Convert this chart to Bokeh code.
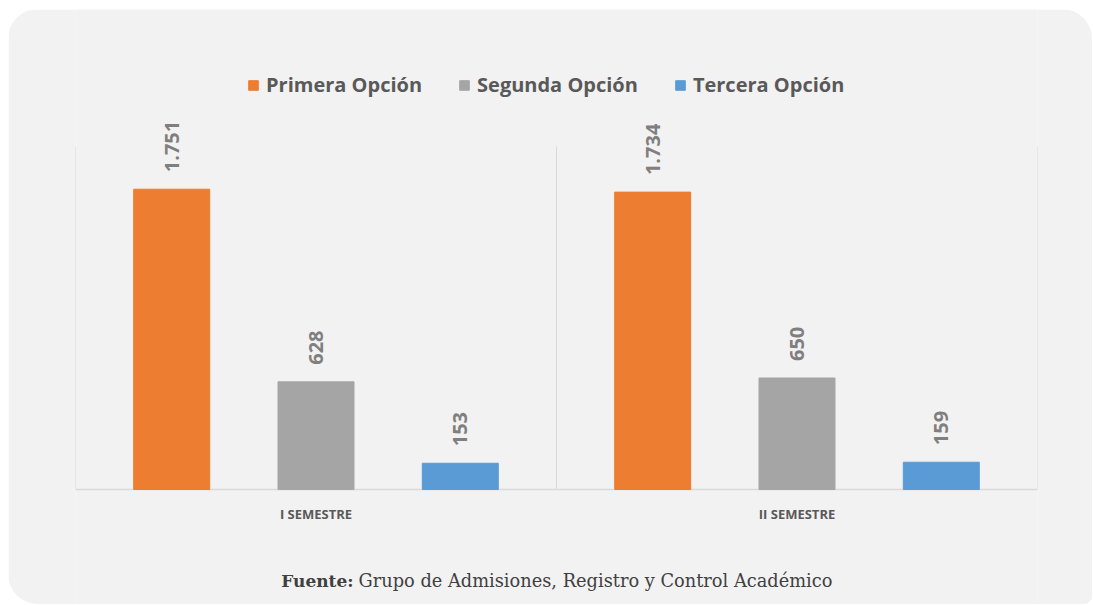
import math
from bokeh.plotting import figure
from bokeh.models import (ColumnDataSource, FactorRange, Range1d, Legend, LegendItem, Label)
from bokeh.core.properties import value
from bokeh.transform import dodge
from bokeh.embed import file_html
from bokeh.resources import INLINE

# ---- data ----
semesters = ["I SEMESTRE", "II SEMESTRE"]
series_names = ["Primera Opción", "Segunda Opción", "Tercera Opción"]
primera = [1751, 1734]
segunda = [628, 650]
tercera = [153, 159]
series_values = [primera, segunda, tercera]
series_colors = ["#ED7D31", "#A5A5A5", "#5B9BD5"]
footer_bold = "Fuente:"
footer_rest = "Grupo de Admisiones, Registro y Control Académico"

# ---- layout ----
W, H = 1084, 595
BL, BR = 67, 55
base_px = 480            # baseline position from figure top
px_per_unit = 343 / 2000  # value area: 0..2000 spans 343 px
axis_max = 2000
y_start = -(H - base_px) / px_per_unit
y_end = base_px / px_per_unit

BG = "#F2F2F2"

p = figure(width=W, height=H, x_range=FactorRange(*semesters, range_padding=0),
           y_range=Range1d(y_start, y_end), output_backend="svg", toolbar_location=None,
           min_border_left=BL, min_border_right=BR, min_border_top=0, min_border_bottom=0)
p.background_fill_color = BG
p.border_fill_color = BG
p.outline_line_color = None
p.xgrid.visible = False
p.ygrid.visible = False
p.yaxis.visible = False
p.xaxis.visible = False
p.styles = {"border-radius": "30px 30px 8px 30px", "overflow": "hidden",
            "margin-left": "8px", "margin-top": "9px"}

# category separators and baseline
p.segment(x0=[0, 1, 2], x1=[0, 1, 2], y0=[0, 0, 0], y1=[axis_max] * 3,
          line_color="#D9D9D9", line_width=1)
p.segment(x0=[0], x1=[2], y0=[0], y1=[0], line_color="#D9D9D9", line_width=1.5)

# category labels
p.text(x=semesters, y=[0, 0], text=semesters, y_offset=24, text_align="center",
       text_baseline="middle", text_font=value("Open Sans"), text_font_style="bold",
       text_font_size="13px", text_color="#595959")

offsets = [-0.3, 0.0, 0.3]
bar_w = 0.158
items = []
for name, vals, col, off in zip(series_names, series_values, series_colors, offsets):
    src = ColumnDataSource(dict(sem=semesters, val=vals,
                                lab=[f"{v:,}".replace(",", ".") for v in vals]))
    r = p.vbar(x=dodge("sem", off, range=p.x_range), top="val", width=bar_w, source=src,
               fill_color=col, line_color=col)
    p.text(x=dodge("sem", off, range=p.x_range), y="val", text="lab", source=src,
           angle=math.pi / 2, text_align="left", text_baseline="middle", y_offset=-17,
           text_font=value("Open Sans"), text_font_style="bold", text_font_size="20px",
           text_color="#7F7F7F")
    items.append(LegendItem(label=name, renderers=[r]))

legend = Legend(items=items, orientation="horizontal", location=(172, 506),
                glyph_width=12, glyph_height=12, label_standoff=7, spacing=36,
                label_text_font="Open Sans", label_text_font_style="bold",
                label_text_font_size="20px", label_text_color="#595959",
                background_fill_alpha=0, border_line_alpha=0, padding=0, margin=0)
p.add_layout(legend, "center")

p.add_layout(Label(x=278, y=24, x_units="screen", y_units="screen", text=footer_bold,
                   text_align="right", text_baseline="middle", text_font="DejaVu Serif",
                   text_font_style="bold", text_font_size="17px", text_color="#404040"))
p.add_layout(Label(x=283, y=24, x_units="screen", y_units="screen", text=footer_rest,
                   text_align="left", text_baseline="middle", text_font="DejaVu Serif",
                   text_font_size="17.8px", text_color="#404040"))

open("out.html", "w").write(file_html(p, INLINE))
